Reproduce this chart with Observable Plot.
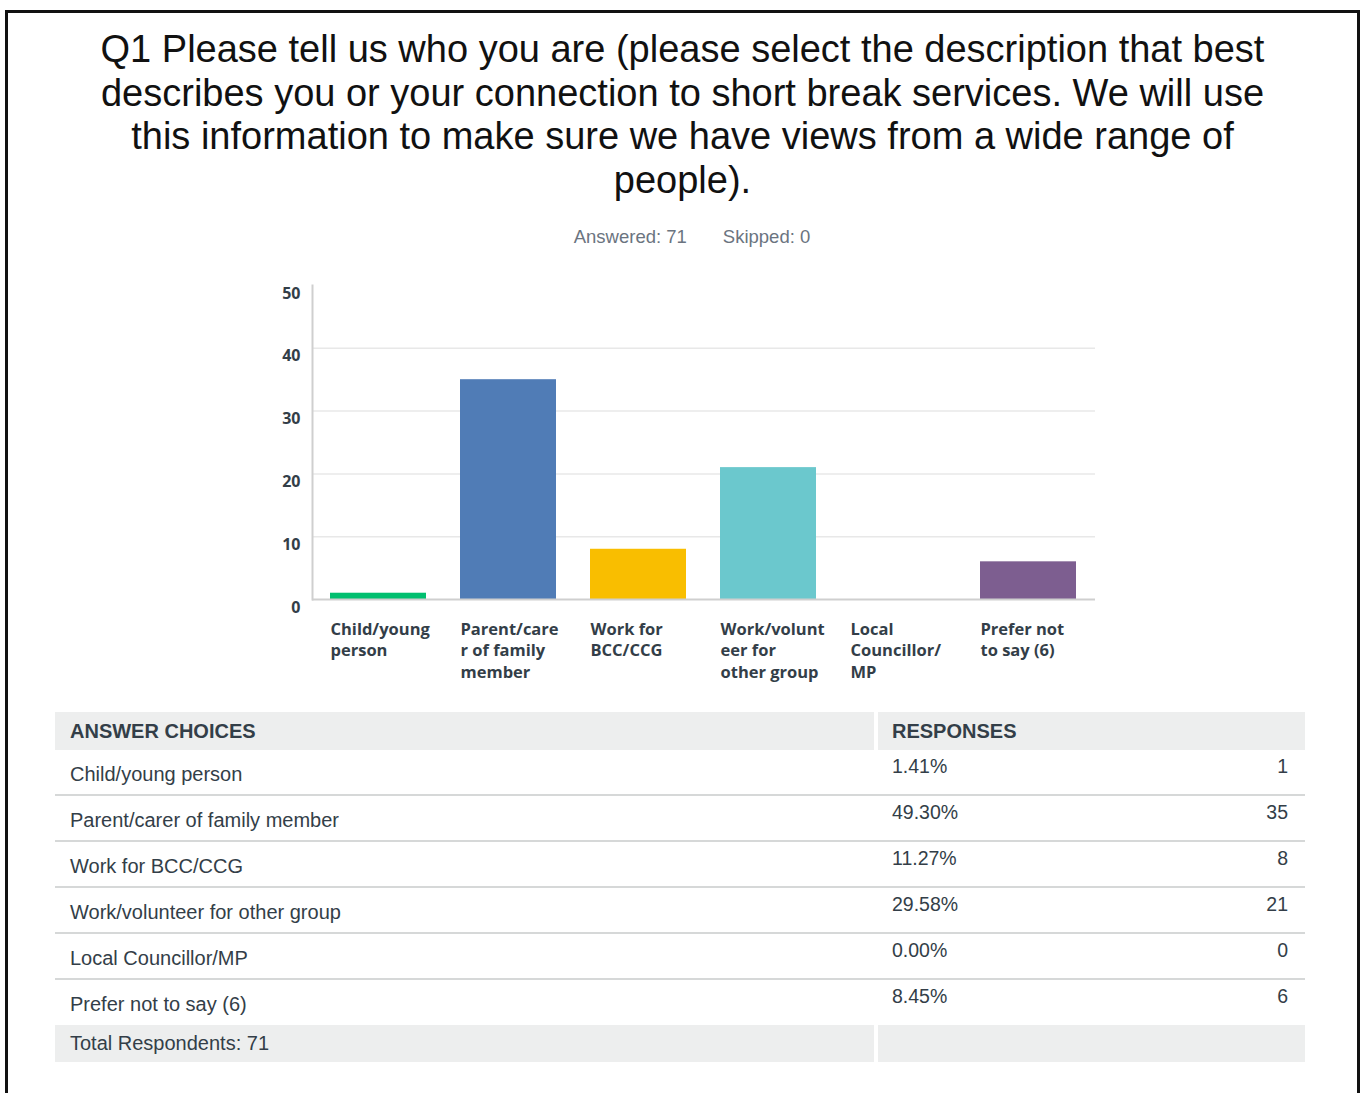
<!DOCTYPE html>
<html><head><meta charset="utf-8">
<script src="https://cdn.jsdelivr.net/npm/d3@7"></script>
<script src="https://cdn.jsdelivr.net/npm/@observablehq/plot@0.6"></script>
<style>
body{margin:0;background:#fff;width:1365px;height:1093px;overflow:hidden;position:relative;font-family:"Liberation Sans",Arial,sans-serif;}
#frame{position:absolute;left:5px;top:10px;width:1355px;height:1200px;border:3px solid #111;box-sizing:border-box;}
#title{position:absolute;left:0;width:1365px;top:28px;text-align:center;font-size:38px;line-height:43.5px;color:#111;white-space:nowrap;}
#sub{position:absolute;top:226px;left:0;width:1384px;text-align:center;font-size:18.5px;color:#6b7480;white-space:pre;}
#chart{position:absolute;left:0;top:270px;}
#table{position:absolute;left:55px;top:712px;width:1250px;color:#333e48;font-size:20px;}
.hdr{display:flex;height:38px;}
.hdr div{background:#edeeee;font-weight:bold;font-size:20px;line-height:38px;}
.c1{width:819px;padding-left:15px;box-sizing:border-box;}
.c2{width:427px;margin-left:4px;padding-left:14px;padding-right:17px;box-sizing:border-box;position:relative;}
.row{display:flex;height:46px;border-bottom:2px solid #d6d8d8;box-sizing:border-box;}
.row .c1{padding-top:13px;}
.row .c2{padding-top:5px;font-size:19.5px;}
.row .cnt{position:absolute;right:17px;top:5px;}
.tot{display:flex;height:37px;}
.tot div{background:#edeeee;line-height:37px;}
</style></head>
<body>
<div id="frame"></div>
<div id="title"></div>
<div id="sub"></div>
<div id="chart"></div>
<div id="table"></div>
<script>
const titleLines = [
  "Q1 Please tell us who you are (please select the description that best",
  "describes you or your connection to short break services. We will use",
  "this information to make sure we have views from a wide range of",
  "people)."
];
const answered = 71;
const skipped = 0;
const categories = ["Child/young person","Parent/carer of family member","Work for BCC/CCG","Work/volunteer for other group","Local Councillor/MP","Prefer not to say (6)"];
const tickLabels = ["Child/young\nperson","Parent/care\nr of family\nmember","Work for\nBCC/CCG","Work/volunt\neer for\nother group","Local\nCouncillor/\nMP","Prefer not\nto say (6)"];
const responses = [1,35,8,21,0,6];
const percents = ["1.41%","49.30%","11.27%","29.58%","0.00%","8.45%"];
const colors = ["#00bf6f","#507cb6","#f9be00","#6bc8cd","#ff8b4f","#7d5e90"];
const yTicks = [0,10,20,30,40,50];
const gridTicks = [10,20,30,40];

document.getElementById("title").innerHTML = titleLines.map(l=>`<div>${l}</div>`).join("");
document.getElementById("sub").textContent = `Answered: ${answered}       Skipped: ${skipped}`;

const data = categories.map((c,i)=>({cat:c, value:responses[i]}));
const chart = Plot.plot({
  width:1365, height:434,
  marginLeft:312, marginRight:270, marginTop:15, marginBottom:105,
  x:{domain:categories, paddingInner:0.26, paddingOuter:0.13, label:null},
  y:{domain:[0,50], label:null},
  color:{domain:categories, range:colors},
  style:{background:"transparent", fontFamily:"'Open Sans', sans-serif"},
  marks:[
    Plot.ruleY(gridTicks,{stroke:"#e8e8e8", strokeWidth:1.5}),
    Plot.frame({anchor:"left", stroke:"#cfcfcf", strokeWidth:2}),
    Plot.barY(data,{x:"cat", y:"value", fill:"cat"}),
    Plot.ruleY([0],{stroke:"#cfcfcf", strokeWidth:2}),
    Plot.axisY({ticks:yTicks, tickSize:0, tickPadding:12, dy:8, fontWeight:700, fontSize:16, fill:"#333e48", label:null}),
    Plot.axisX({tickSize:0, tickPadding:20, tickFormat:d=>tickLabels[categories.indexOf(d)], textAnchor:"start", dx:-48, lineHeight:1.3, fontWeight:700, fontSize:16.5, fill:"#333e48", label:null})
  ]
});
document.getElementById("chart").appendChild(chart);

const t = document.getElementById("table");
let html = `<div class="hdr"><div class="c1">ANSWER CHOICES</div><div class="c2">RESPONSES</div></div>`;
categories.forEach((c,i)=>{
  const last = i===categories.length-1;
  html += `<div class="row" style="${last?'border-bottom:none;height:45px':''}"><div class="c1">${c}</div><div class="c2">${percents[i]}<span class="cnt">${responses[i]}</span></div></div>`;
});
html += `<div class="tot"><div class="c1">Total Respondents: ${answered}</div><div class="c2"></div></div>`;
t.innerHTML = html;
</script>
</body></html>
